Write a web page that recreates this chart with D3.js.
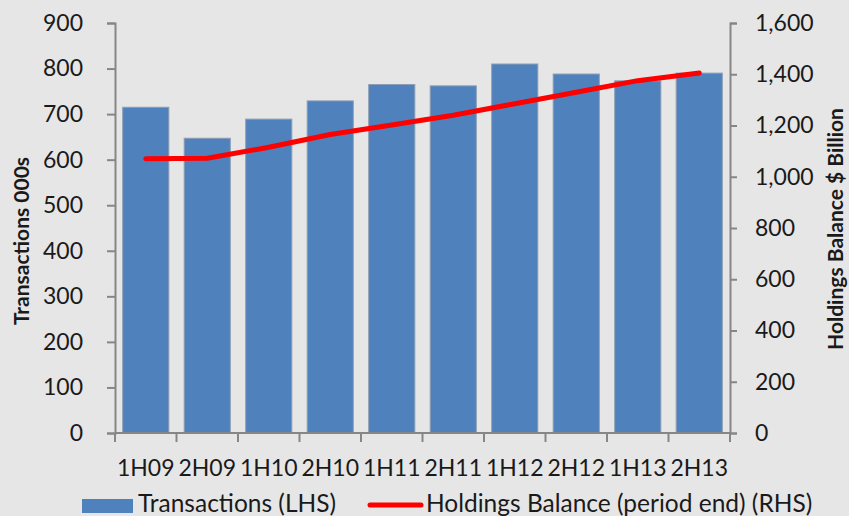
<!DOCTYPE html>
<html>
<head>
<meta charset="utf-8">
<script src="https://cdn.jsdelivr.net/npm/d3@7"></script>
<style>
  html, body { margin: 0; padding: 0; background: #e6e6e6; }
  svg { display: block; }
  text { font-family: Lato, "Open Sans", sans-serif; fill: #1a1a1a; }
</style>
</head>
<body>
<svg id="chart" width="849" height="516"></svg>
<script>
// Half-year periods
const categories = ["1H09", "2H09", "1H10", "2H10", "1H11", "2H11", "1H12", "2H12", "1H13", "2H13"];
// Transactions, thousands (left axis)
const transactions = [715, 647, 689, 729, 765, 762, 810, 788, 773, 790];
// Holdings balance at period end, $ billion (right axis)
const holdings = [1070, 1072, 1115, 1165, 1202, 1240, 1285, 1330, 1375, 1405];
const leftTicks = [0, 100, 200, 300, 400, 500, 600, 700, 800, 900];
const rightTicks = [0, 200, 400, 600, 800, 1000, 1200, 1400, 1600];

const W = 849, H = 516;
const plot = { left: 115, right: 730, top: 23, bottom: 433 };
const axisColor = "#868686";

const svg = d3.select("#chart");
svg.append("rect").attr("width", W).attr("height", H).attr("fill", "#e6e6e6");

const x = d3.scaleBand().domain(categories).range([plot.left, plot.right]).paddingInner(0.25).paddingOuter(0.125);
const yL = d3.scaleLinear().domain([0, 900]).range([plot.bottom, plot.top]);
const yR = d3.scaleLinear().domain([0, 1600]).range([plot.bottom, plot.top]);

// Bars
svg.append("g").selectAll("rect").data(categories).join("rect")
  .attr("x", d => x(d))
  .attr("y", (d, i) => yL(transactions[i]))
  .attr("width", x.bandwidth())
  .attr("height", (d, i) => yL(0) - yL(transactions[i]))
  .attr("fill", "#4f81bd")
  .attr("stroke", "#8d9db3")
  .attr("stroke-width", 1);

// Holdings line
const line = d3.line()
  .x((d, i) => x(categories[i]) + x.bandwidth() / 2)
  .y(d => yR(d));
svg.append("path").datum(holdings)
  .attr("d", line)
  .attr("fill", "none")
  .attr("stroke", "#ff0000")
  .attr("stroke-width", 5)
  .attr("stroke-linecap", "round")
  .attr("stroke-linejoin", "round");

// Left axis
const gL = svg.append("g").attr("transform", `translate(${plot.left},0)`)
  .call(d3.axisLeft(yL).tickValues(leftTicks).tickSize(8).tickPadding(24).tickFormat(d3.format("d")));
// Right axis
const gR = svg.append("g").attr("transform", `translate(${plot.right},0)`)
  .call(d3.axisRight(yR).tickValues(rightTicks).tickSize(7).tickPadding(18).tickFormat(d3.format(",")));
// Bottom axis: ticks sit between categories
const xEdge = d3.scaleLinear().domain([0, categories.length]).range([plot.left, plot.right]);
const gB = svg.append("g").attr("transform", `translate(0,${plot.bottom})`);
gB.append("line").attr("x1", plot.left).attr("x2", plot.right).attr("y1", 0).attr("y2", 0)
  .attr("stroke", axisColor).attr("stroke-width", 2);
gB.selectAll("line.tk").data(d3.range(categories.length + 1)).join("line")
  .attr("class", "tk")
  .attr("x1", d => xEdge(d)).attr("x2", d => xEdge(d))
  .attr("y1", 0).attr("y2", 9)
  .attr("stroke", axisColor).attr("stroke-width", 2);
gB.selectAll("text").data(categories).join("text")
  .attr("x", d => x(d) + x.bandwidth() / 2)
  .attr("y", 43)
  .attr("text-anchor", "middle")
  .attr("font-size", 23)
  .text(d => d);

[gL, gR].forEach(g => {
  g.select(".domain").attr("stroke", axisColor).attr("stroke-width", 2);
  g.selectAll(".tick line").attr("stroke", axisColor).attr("stroke-width", 2);
  g.selectAll(".tick text").attr("font-size", 23).attr("fill", "#1a1a1a").attr("font-family", "Lato, sans-serif");
});

// Axis titles
svg.append("text")
  .attr("transform", `translate(29,241) rotate(-90)`)
  .attr("text-anchor", "middle")
  .attr("font-size", 21).attr("font-weight", "bold")
  .text("Transactions 000s");
svg.append("text")
  .attr("transform", `translate(843,229) rotate(-90)`)
  .attr("text-anchor", "middle")
  .attr("font-size", 21).attr("font-weight", "bold")
  .text("Holdings Balance $ Billion");

// Legend
const lg = svg.append("g");
lg.append("rect").attr("x", 82).attr("y", 499).attr("width", 51).attr("height", 14).attr("fill", "#4f81bd");
lg.append("text").attr("x", 138).attr("y", 511.5).attr("font-size", 24.5).text("Transactions (LHS)");
lg.append("line").attr("x1", 370).attr("x2", 421).attr("y1", 505).attr("y2", 505)
  .attr("stroke", "#ff0000").attr("stroke-width", 5).attr("stroke-linecap", "round");
lg.append("text").attr("x", 426).attr("y", 511.5).attr("font-size", 24.5).text("Holdings Balance (period end) (RHS)");
</script>
</body>
</html>
